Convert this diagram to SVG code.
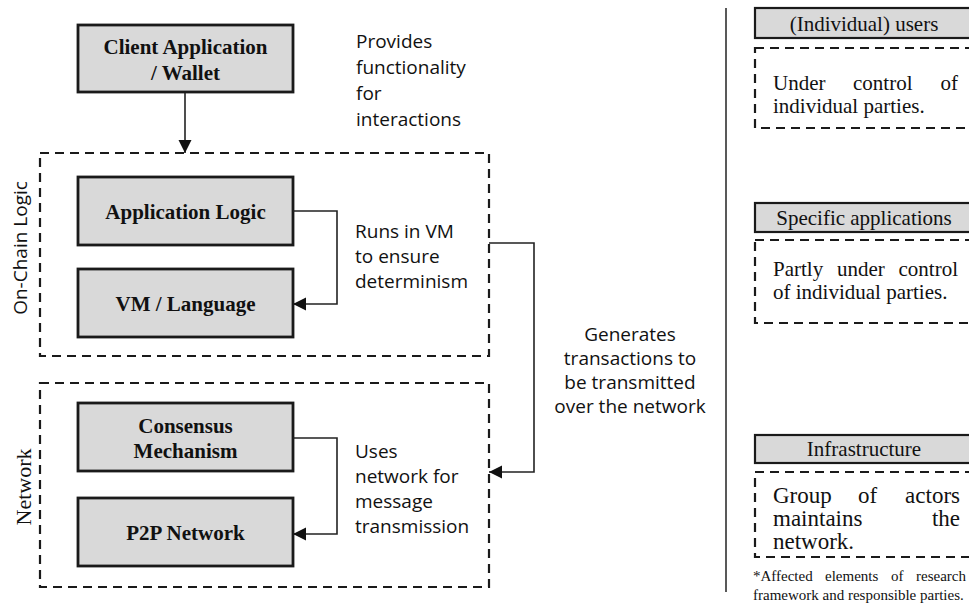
<svg xmlns="http://www.w3.org/2000/svg" width="969" height="611" viewBox="0 0 969 611">
  <style>
    .box { fill: #d9d9d9; stroke: #1a1a1a; stroke-width: 2.8; }
    .hdr { fill: #d9d9d9; stroke: #1a1a1a; stroke-width: 2.2; }
    .grp { fill: none; stroke: #1a1a1a; stroke-width: 2.2; stroke-dasharray: 9 6; }
    .conn { fill: none; stroke: #222; stroke-width: 1.6; }
    .sep { fill: none; stroke: #222; stroke-width: 1.5; }
    .bold { font-family: "Liberation Serif", "Times New Roman", serif; font-weight: bold; font-size: 21px; fill: #111; text-anchor: middle; }
    .serif { font-family: "Liberation Serif", "Times New Roman", serif; font-size: 21px; fill: #111; }
    .big { font-size: 23px; }
    .mid { text-anchor: middle; }
    .end { text-anchor: end; }
    .note { font-family: "Open Sans", "Noto Sans", sans-serif; font-size: 19px; fill: #111; }
    .foot { font-family: "Liberation Serif", "Times New Roman", serif; font-size: 15px; fill: #111; }
  </style>
  <defs>
    <marker id="arrow" markerUnits="userSpaceOnUse" markerWidth="14" markerHeight="14" refX="13" refY="6.5" orient="auto">
      <path d="M0,0 L13,6.5 L0,13 z" fill="#111"/>
    </marker>
  </defs>

  <rect width="969" height="611" fill="#ffffff"/>

  <!-- layer groups -->
  <g id="group-onchain">
    <rect class="grp" x="40" y="153" width="449" height="203"/>
    <text class="note mid" transform="translate(27,248) rotate(-90)">On-Chain Logic</text>
  </g>
  <g id="group-network">
    <rect class="grp" x="40" y="383" width="449" height="204"/>
    <text class="serif mid" style="font-size:22px" transform="translate(31,487) rotate(-90)">Network</text>
  </g>

  <!-- component nodes -->
  <g id="client">
    <rect class="box" x="78" y="25" width="215" height="67"/>
    <text class="bold" x="185.5" y="54">Client Application</text>
    <text class="bold" x="185.5" y="80">/ Wallet</text>
  </g>
  <g id="app-logic">
    <rect class="box" x="78" y="177" width="215" height="68"/>
    <text class="bold" x="185.5" y="219">Application Logic</text>
  </g>
  <g id="vm">
    <rect class="box" x="78" y="269" width="215" height="68"/>
    <text class="bold" x="185.5" y="311">VM / Language</text>
  </g>
  <g id="consensus">
    <rect class="box" x="78" y="403" width="215" height="68"/>
    <text class="bold" x="185.5" y="433">Consensus</text>
    <text class="bold" x="185.5" y="458">Mechanism</text>
  </g>
  <g id="p2p">
    <rect class="box" x="78" y="498" width="215" height="68"/>
    <text class="bold" x="185.5" y="540">P2P Network</text>
  </g>

  <!-- connectors -->
  <g id="connectors">
    <path class="conn" d="M185,93 V153" marker-end="url(#arrow)"/>
    <path class="conn" d="M293,211 H337 V304 H293" marker-end="url(#arrow)"/>
    <path class="conn" d="M293,438 H337 V534 H293" marker-end="url(#arrow)"/>
    <path class="conn" d="M489,243 H534 V472 H489" marker-end="url(#arrow)"/>
  </g>

  <!-- annotations -->
  <g id="note-client">
    <text class="note" x="356" y="48">Provides</text>
    <text class="note" x="356" y="74">functionality</text>
    <text class="note" x="356" y="100">for</text>
    <text class="note" x="356" y="126">interactions</text>
  </g>
  <g id="note-vm">
    <text class="note" x="355" y="238">Runs in VM</text>
    <text class="note" x="355" y="263">to ensure</text>
    <text class="note" x="355" y="288">determinism</text>
  </g>
  <g id="note-network">
    <text class="note" x="355" y="458">Uses</text>
    <text class="note" x="355" y="483">network for</text>
    <text class="note" x="355" y="508">message</text>
    <text class="note" x="355" y="533">transmission</text>
  </g>
  <g id="note-transactions">
    <text class="note mid" x="630" y="341">Generates</text>
    <text class="note mid" x="630" y="365">transactions to</text>
    <text class="note mid" x="630" y="389">be transmitted</text>
    <text class="note mid" x="630" y="413">over the network</text>
  </g>

  <!-- separator -->
  <path class="sep" d="M726,8 V592"/>

  <!-- responsibility legend -->
  <g id="users">
    <rect class="hdr" x="755" y="8" width="220" height="30"/>
    <text class="serif mid" x="864" y="31">(Individual) users</text>
    <rect class="grp" x="755" y="48" width="230" height="80"/>
    <text class="serif" x="773" y="90">Under</text>
    <text class="serif" x="853" y="90">control</text>
    <text class="serif end" x="958" y="90">of</text>
    <text class="serif" x="773" y="113">individual parties.</text>
  </g>
  <g id="applications">
    <rect class="hdr" x="755" y="203" width="220" height="29"/>
    <text class="serif mid" x="864" y="225">Specific applications</text>
    <rect class="grp" x="755" y="240" width="230" height="83"/>
    <text class="serif" x="773" y="276">Partly</text>
    <text class="serif" x="837" y="276">under</text>
    <text class="serif end" x="958" y="276">control</text>
    <text class="serif" x="773" y="299">of individual parties.</text>
  </g>
  <g id="infrastructure">
    <rect class="hdr" x="755" y="435" width="220" height="28"/>
    <text class="serif mid" x="864" y="456">Infrastructure</text>
    <rect class="grp" x="755" y="472" width="230" height="85"/>
    <text class="serif big" x="773" y="503">Group</text>
    <text class="serif big" x="858" y="503">of</text>
    <text class="serif big end" x="960" y="503">actors</text>
    <text class="serif big" x="773" y="526">maintains</text>
    <text class="serif big end" x="960" y="526">the</text>
    <text class="serif big" x="773" y="549">network.</text>
  </g>
  <g id="footnote">
    <text class="foot" x="753" y="581">*Affected</text>
    <text class="foot" x="825" y="581">elements</text>
    <text class="foot" x="891" y="581">of</text>
    <text class="foot end" x="966" y="581">research</text>
    <text class="foot" x="753" y="600">framework and responsible parties.</text>
  </g>
</svg>
